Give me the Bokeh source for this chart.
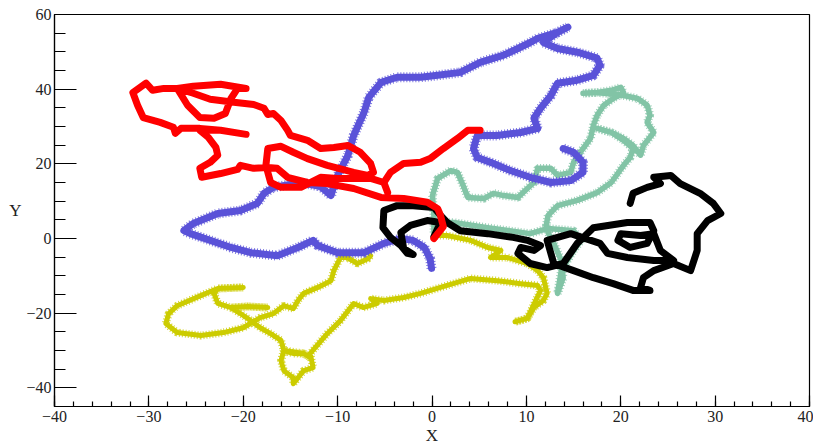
from bokeh.plotting import figure
from bokeh.models import SingleIntervalTicker, Range1d
from bokeh.embed import file_html
from bokeh.resources import INLINE

# ---- data ----
yellow_x = [0.2, 1.6, 4.1, 5.9, 7.3, 6.2, 8.0, 10.1, 11.2, 11.8, 12.2, 11.8, 10.8, 10.1, 8.8, 10.1, 11.5, 11.2, 9.4, 6.9, 4.1, 0.9, -1.2, -3.0, -5.1, -6.5, -5.8, -7.3, -8.3, -9.7, -11.1, -12.9, -12.6, -13.6, -14.7, -14.7, -15.7, -16.0, -15.7, -14.7, -13.6, -12.9, -13.6, -15.7, -16.0, -17.1, -18.2, -19.2, -20.3, -21.3, -19.5, -17.4, -19.5, -21.3, -22.7, -23.1, -22.7, -20.0, -22.7, -24.5, -27.0, -27.9, -28.2, -27.0, -24.5, -22.1, -20.0, -18.2, -16.8, -15.7, -14.7, -14.2, -13.6, -12.1, -10.7, -10.4, -9.7, -9.0, -7.9, -6.8, -6.5]
yellow_y = [0.8, 0.8, -0.5, -2.4, -3.2, -5.1, -5.1, -6.7, -8.6, -10.5, -14.7, -16.6, -18.5, -21.4, -22.3, -21.4, -13.9, -12.6, -12.1, -11.3, -10.7, -13.1, -14.7, -15.8, -16.6, -16.1, -17.4, -18.5, -17.4, -22.0, -25.5, -30.8, -34.6, -35.4, -38.9, -37.3, -35.4, -32.7, -30.0, -30.8, -30.8, -31.9, -30.8, -30.0, -27.3, -25.5, -23.9, -22.0, -20.1, -18.5, -18.2, -18.5, -18.2, -18.5, -17.4, -14.7, -13.4, -13.1, -13.4, -15.3, -18.0, -20.1, -22.8, -25.2, -26.0, -25.2, -23.9, -21.2, -20.1, -18.0, -18.8, -16.6, -14.7, -13.1, -11.3, -8.6, -5.1, -5.1, -6.7, -5.4, -4.6]

green_x = [0.2, 0.2, 0.05, 0.6, 2.0, 2.7, 3.3, 3.8, 5.5, 6.5, 7.6, 9.1, 10.1, 10.8, 11.2, 12.6, 13.3, 14.7, 15.0, 16.0, 16.8, 17.1, 17.5, 18.2, 19.2, 20.3, 20.0, 19.0, 17.5, 16.0, 17.5, 20.3, 21.8, 22.8, 23.1, 22.8, 23.5, 22.4, 22.1, 21.3, 20.3, 19.0, 17.5, 19.0, 20.3, 21.3, 21.0, 20.3, 19.0, 17.5, 15.4, 13.3, 12.3, 12.1, 12.3, 12.9, 13.7, 13.9, 13.3, 13.7, 15.0, 15.8, 15.0, 12.3, 10.4, 5.9, 2.3, 0.9]
green_y = [1.6, 6.2, 11.5, 16.1, 18.2, 17.7, 14.2, 11.0, 10.7, 12.1, 11.5, 11.0, 13.4, 15.0, 18.8, 18.8, 16.9, 17.7, 20.4, 24.1, 26.8, 30.3, 33.0, 35.7, 37.5, 39.1, 40.5, 39.7, 39.1, 38.9, 39.1, 38.3, 37.5, 35.7, 33.0, 31.1, 28.4, 24.9, 22.3, 24.9, 26.8, 28.4, 29.5, 28.4, 26.3, 24.1, 21.7, 19.6, 15.0, 12.3, 10.2, 8.8, 6.2, 3.5, 1.6, -1.3, -5.9, -10.5, -14.7, -8.6, -3.2, -0.5, 2.1, 2.7, 1.3, 2.9, 4.3, 4.3]

blue_x = [-0.05, -0.2, -0.8, -2.0, -3.3, -4.4, -5.1, -7.2, -10.0, -12.1, -12.6, -14.2, -16.4, -19.2, -21.3, -23.5, -25.6, -26.3, -25.3, -22.7, -20.3, -18.5, -17.8, -16.8, -13.9, -11.8, -10.7, -10.4, -10.0, -8.9, -8.3, -7.2, -6.7, -5.4, -3.7, -1.2, 0.6, 3.0, 5.1, 7.6, 9.1, 10.4, 11.2, 13.3, 14.4, 13.3, 11.8, 13.3, 15.4, 17.5, 17.8, 17.1, 15.4, 13.3, 12.6, 11.5, 10.8, 11.2, 9.4, 6.9, 4.8, 4.4, 4.8, 6.2, 8.3, 10.4, 12.6, 14.7, 16.0, 16.0, 15.0, 13.9]
blue_y = [-8.0, -5.4, -2.4, -0.5, 0.0, -0.8, -1.3, -3.8, -3.8, -1.9, -0.5, -2.4, -4.6, -3.8, -2.4, -0.5, 1.3, 2.1, 4.0, 6.7, 7.5, 9.4, 12.1, 13.7, 15.0, 13.9, 11.5, 14.2, 16.9, 22.3, 27.6, 33.8, 37.8, 41.8, 43.2, 43.2, 43.7, 44.5, 47.2, 49.1, 50.9, 52.5, 53.6, 55.2, 56.6, 55.2, 52.5, 50.9, 49.9, 48.3, 46.4, 43.7, 42.4, 41.6, 38.3, 34.9, 32.2, 29.5, 28.4, 27.6, 27.6, 24.1, 21.7, 20.4, 18.2, 16.4, 15.0, 15.5, 17.7, 20.4, 23.1, 24.1]

black_x = [0.2, 0.9, -0.5, -2.3, -3.3, -3.0, -2.0, -2.6, -3.3, -4.4, -5.2, -5.1, -3.7, -2.0, 0.2, 0.9, 1.6, 3.0, 5.9, 8.6, 10.1, 11.5, 10.8, 9.4, 9.1, 10.4, 12.2, 13.9, 15.4, 17.1, 20.7, 23.1, 23.5, 22.8, 21.0, 19.7, 20.0, 22.1, 23.5, 24.2, 25.6, 23.5, 20.7, 18.6, 17.8, 14.7, 12.2, 12.9, 15.0, 17.1, 19.2, 21.3, 23.1, 22.1, 22.4, 23.5, 25.6, 27.4, 28.1, 28.1, 29.2, 30.6, 29.8, 28.4, 26.3, 25.3, 23.5, 24.2, 22.8, 21.3, 21.0]
black_y = [0.5, 4.3, 4.8, 3.5, 1.6, -2.7, -4.3, -4.0, -1.9, 0.3, 2.9, 7.5, 8.8, 8.8, 8.3, 6.2, 4.3, 2.1, 1.3, 0.3, -0.5, -1.9, -3.2, -2.4, -4.0, -6.7, -7.8, -6.7, -1.3, 2.9, 4.3, 4.3, 2.1, -1.3, -2.4, -0.5, 1.3, 0.8, 1.3, -3.2, -5.9, -5.9, -5.1, -4.0, -1.3, 1.3, -0.5, -6.7, -8.6, -10.5, -12.1, -13.9, -13.9, -13.1, -10.5, -8.6, -6.7, -8.6, -3.2, 1.3, 4.8, 6.7, 9.4, 12.1, 14.7, 16.9, 16.4, 14.7, 13.7, 12.1, 9.4]

red_x = [0.2, 1.2, 0.9, 0.6, -0.5, -3.0, -5.4, -8.3, -11.1, -13.2, -15.3, -16.4, -17.4, -18.9, -20.3, -20.6, -22.4, -24.4, -24.6, -23.5, -22.7, -22.9, -23.7, -24.6, -22.4, -19.7, -22.4, -24.6, -26.6, -27.2, -27.4, -28.8, -30.6, -31.2, -31.7, -30.3, -29.6, -28.4, -27.0, -25.9, -24.6, -23.1, -21.9, -21.3, -20.6, -19.7, -22.4, -25.3, -27.0, -25.3, -23.5, -21.0, -18.9, -17.8, -17.4, -16.8, -16.0, -15.3, -15.0, -13.2, -11.8, -10.4, -8.9, -7.6, -6.5, -6.2, -6.8, -8.3, -11.1, -13.2, -14.7, -16.0, -17.4, -17.6, -17.1, -16.0, -13.9, -11.8, -10.0, -8.3, -6.5, -5.1, -4.7, -5.1, -4.4, -3.0, -1.2, -0.2, 1.2, 2.7, 3.8, 5.1]
red_y = [0.0, 3.2, 6.2, 8.0, 9.7, 10.7, 11.0, 13.4, 14.7, 15.0, 16.4, 18.8, 19.0, 18.8, 19.6, 18.5, 17.4, 16.4, 18.8, 20.4, 22.3, 24.4, 27.1, 29.0, 29.0, 27.9, 29.0, 29.5, 29.5, 28.2, 29.8, 31.1, 32.4, 35.7, 39.1, 41.6, 39.7, 40.2, 40.2, 35.7, 32.4, 32.2, 33.5, 37.5, 40.2, 40.2, 41.3, 40.8, 40.2, 38.9, 37.3, 36.5, 35.9, 34.9, 33.2, 33.5, 31.6, 29.0, 27.6, 26.3, 24.1, 24.4, 24.9, 23.1, 20.1, 17.7, 16.9, 17.7, 19.6, 21.4, 23.1, 24.7, 24.1, 19.6, 15.0, 13.7, 13.7, 16.4, 16.1, 16.1, 16.1, 15.0, 12.3, 15.0, 17.7, 20.1, 20.4, 21.4, 24.1, 26.8, 29.0, 29.0]

x_ticks_interval = 10
y_ticks_interval = 20

FONT = "Liberation Serif"

p = figure(frame_width=755, frame_height=392,
           min_border_left=54, min_border_right=4, min_border_top=14, min_border_bottom=30,
           x_range=Range1d(-40, 40), y_range=Range1d(-45, 60),
           output_backend="svg", toolbar_location=None)

p.background_fill_color = "white"
p.border_fill_color = "white"
p.outline_line_color = "black"
p.outline_line_width = 1.2
p.xgrid.visible = False
p.ygrid.visible = False

p.xaxis.ticker = SingleIntervalTicker(interval=x_ticks_interval, num_minor_ticks=5)
p.yaxis.ticker = SingleIntervalTicker(interval=y_ticks_interval, num_minor_ticks=4)

for ax in (p.xaxis[0], p.yaxis[0]):
    ax.axis_line_color = "black"
    ax.axis_line_width = 1.2
    ax.major_tick_line_color = "black"
    ax.minor_tick_line_color = "black"
    ax.major_tick_line_width = 1.2
    ax.minor_tick_line_width = 1.2
    ax.major_tick_out = 0
    ax.minor_tick_out = 0
    ax.major_label_text_font = FONT
    ax.major_label_text_font_size = "16px"
    ax.major_label_text_color = "#222222"
    ax.axis_label_text_font = FONT
    ax.axis_label_text_font_size = "17px"
    ax.axis_label_text_font_style = "normal"
    ax.axis_label_text_color = "#222222"

p.xaxis.major_label_standoff = 4
p.yaxis.major_label_standoff = 3
p.xaxis.major_tick_in = 11
p.xaxis.minor_tick_in = 5
p.yaxis.major_tick_in = 22
p.yaxis.minor_tick_in = 11

p.xaxis.axis_label = "X"
p.yaxis.axis_label = "Y"
p.xaxis.axis_label_standoff = 1
p.yaxis.axis_label_standoff = 2
try:
    p.yaxis.axis_label_orientation = "horizontal"
except Exception:
    pass

kw = dict(line_join="round", line_cap="round")
# fuzzy "+"-marker look: a wider, finely dashed line under the solid core
p.line(yellow_x, yellow_y, line_color="#cccc00", line_width=8, line_dash="1 2", line_alpha=0.8)
p.line(yellow_x, yellow_y, line_color="#cccc00", line_width=5, **kw)
p.line(green_x, green_y, line_color="#82c4a6", line_width=8.5, line_dash="1 2", line_alpha=0.8)
p.line(green_x, green_y, line_color="#82c4a6", line_width=5.5, **kw)
p.line(blue_x, blue_y, line_color="#5a52d8", line_width=10, line_dash="1 2", line_alpha=0.8)
p.line(blue_x, blue_y, line_color="#5a52d8", line_width=7, **kw)
p.line(black_x, black_y, line_color="black", line_width=7, **kw)
p.line(red_x, red_y, line_color="#ff0000", line_width=7, **kw)

open("out.html", "w").write(file_html(p, INLINE))
